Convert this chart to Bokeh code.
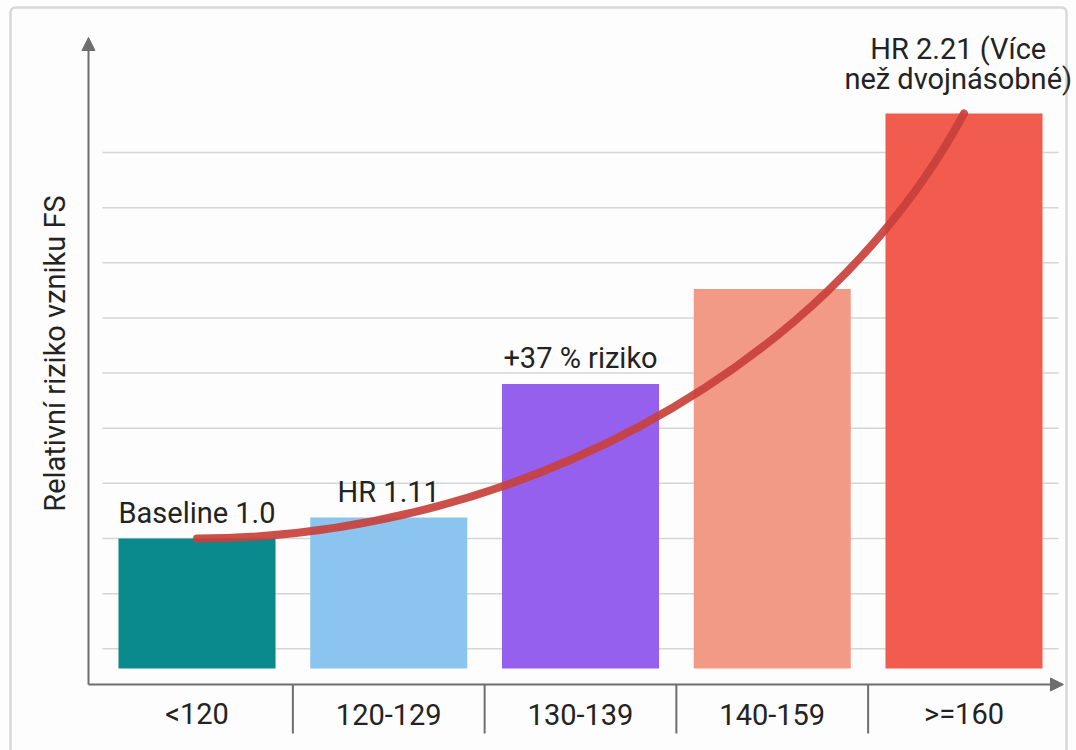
import math
from bokeh.plotting import figure
from bokeh.models import Range1d, Arrow, NormalHead, BoxAnnotation
from bokeh.core.properties import value
from bokeh.embed import file_html
from bokeh.resources import INLINE

# ---- data ----
categories = ["<120", "120-129", "130-139", "140-159", ">=160"]
risk_values = [1.0, 1.06, 1.44, 1.71, 2.21]
bar_colors = ["#0b8a8d", "#8bc5ef", "#9560ee", "#f39a86", "#f25c4f"]
bar_labels = ["Baseline 1.0", "HR 1.11", "+37 % riziko"]
top_label_lines = ["HR 2.21 (Více", "než dvojnásobné)"]
trend_ctrl_x = [1.58, 3.25]
trend_ctrl_y = [1.0, 1.45]
y_axis_title = "Relativní riziko vzniku FS"

xs = list(range(len(categories)))

FONT = value("Roboto")
FS = "29px"
TXT = "#232323"
AXC = "#6e6e6e"
LIFT = 0.026  # vertical nudge for text baselines

p = figure(width=1076, height=750,
           x_range=Range1d(-1.02477, 4.58670), y_range=Range1d(0.39642, 2.53172),
           output_backend="svg", toolbar_location=None, min_border=0,
           x_axis_type=None, y_axis_type=None)
p.grid.visible = False
p.outline_line_color = None
p.background_fill_color = "#fdfdfd"
p.border_fill_color = "#ffffff"

# outer frame
p.add_layout(BoxAnnotation(left=-0.97262, right=4.53455, top=2.51179, bottom=0.30,
                           fill_color=None, line_color="#848484", line_width=2.5,
                           border_radius=5))

# gridlines
grid_step = 0.157
grid_y = [1.0 + grid_step * (k - 2) for k in range(10)]
p.segment(x0=-0.493, x1=4.493, y0=grid_y, y1=grid_y, line_color="#d5d5d5", line_width=1.5)

# bars
p.vbar(x=xs, top=risk_values, bottom=0.63, width=0.819,
       fill_color=bar_colors, line_color=None)

# trend curve
p.bezier(x0=[xs[0]], y0=[risk_values[0]], x1=[xs[-1]], y1=[risk_values[-1]],
         cx0=[trend_ctrl_x[0]], cy0=[trend_ctrl_y[0]],
         cx1=[trend_ctrl_x[1]], cy1=[trend_ctrl_y[1]],
         line_color="#c8403b", line_width=8, line_alpha=0.92, line_cap="round")

# axes with arrows
axis_y0 = 0.5843
axis_x0 = -0.56584
p.add_layout(Arrow(end=NormalHead(size=13, fill_color=AXC, line_color=AXC),
                   x_start=axis_x0, y_start=axis_y0, x_end=axis_x0, y_end=2.42638,
                   line_color=AXC, line_width=2))
p.add_layout(Arrow(end=NormalHead(size=13, fill_color=AXC, line_color=AXC),
                   x_start=axis_x0, y_start=axis_y0, x_end=4.5189, y_end=axis_y0,
                   line_color=AXC, line_width=2))

# category separators
sep_x = [x + 0.5 for x in xs[:-1]]
p.segment(x0=sep_x, x1=sep_x, y0=axis_y0, y1=0.4448, line_color=AXC, line_width=2)

# category labels
p.text(x=xs, y=[0.4733 + LIFT] * len(xs), text=categories, text_font=FONT,
       text_font_size=FS, text_color=TXT, text_align="center",
       text_baseline="alphabetic")

# bar annotations
p.text(x=xs[:3], y=[v + 0.047 + LIFT for v in risk_values[:3]], text=bar_labels,
       text_font=FONT, text_font_size=FS, text_color=TXT,
       text_align="center", text_baseline="alphabetic")
p.text(x=[xs[-1] - 0.03] * 2, y=[2.3666 + LIFT, 2.2812 + LIFT], text=top_label_lines,
       text_font=FONT, text_font_size=FS, text_color=TXT,
       text_align="center", text_baseline="alphabetic")

# y axis title
p.text(x=[-0.738], y=[1.5267], text=[y_axis_title], angle=math.pi / 2,
       text_font=FONT, text_font_size=FS, text_color=TXT,
       text_align="center", text_baseline="middle")

open("out.html", "w").write(file_html(p, INLINE))
